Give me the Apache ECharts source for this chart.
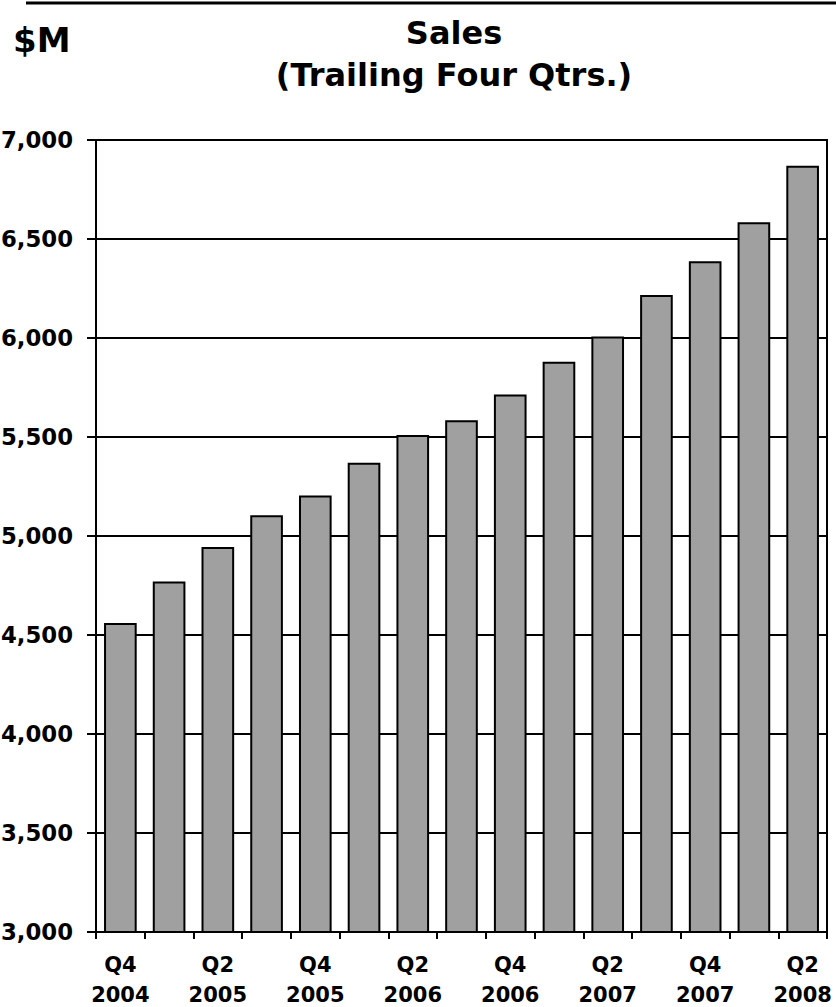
<!DOCTYPE html>
<html>
<head>
<meta charset="utf-8">
<script src="https://cdn.jsdelivr.net/npm/echarts@6/dist/echarts.min.js"></script>
<style>
  html, body { margin: 0; padding: 0; background: #fff; }
  #chart { width: 836px; height: 1007px; }
</style>
</head>
<body>
<div id="chart"></div>
<script>
// quarters, trailing four quarters sales in $M
var quarters = ['Q4\n2004', 'Q1\n2005', 'Q2\n2005', 'Q3\n2005', 'Q4\n2005',
                'Q1\n2006', 'Q2\n2006', 'Q3\n2006', 'Q4\n2006',
                'Q1\n2007', 'Q2\n2007', 'Q3\n2007', 'Q4\n2007',
                'Q1\n2008', 'Q2\n2008'];
var sales = [4560, 4770, 4945, 5105, 5205, 5370, 5510, 5585, 5715,
             5880, 6008, 6217, 6388, 6585, 6870];

var yMin = 3000, yMax = 7000, yStep = 500;
var titleLines = ['Sales', '(Trailing Four Qtrs.)'];
var unitText = '$M';

var FONT = 'DejaVu Sans';

var myChart = echarts.init(document.getElementById('chart'), null, { renderer: 'svg' });

var option = {
  animation: false,
  backgroundColor: '#fff',
  grid: {
    left: 96, right: 9, top: 140, bottom: 75,
    containLabel: false, outerBoundsMode: 'none',
    show: true, borderColor: '#000', borderWidth: 2
  },
  graphic: [
    { type: 'line', shape: { x1: 26, y1: 3, x2: 836, y2: 3 },
      style: { stroke: '#000', lineWidth: 3 } },
    { type: 'text', left: 13, top: 23,
      style: { text: unitText, font: 'bold 34px "' + FONT + '"', fill: '#000' } },
    { type: 'text', x: 454, y: 12,
      style: { text: titleLines.join('\n'), font: 'bold 32px "' + FONT + '"',
               fill: '#000', align: 'center', lineHeight: 42 } }
  ],
  xAxis: {
    type: 'category',
    data: quarters,
    axisLine: { lineStyle: { color: '#000', width: 2 } },
    axisTick: { show: true, interval: 0, length: 7, lineStyle: { color: '#000', width: 2 } },
    axisLabel: {
      interval: 1, margin: 18, color: '#000',
      fontFamily: FONT, fontWeight: 'bold', fontSize: 21, lineHeight: 30
    },
    splitLine: { show: false }
  },
  yAxis: {
    type: 'value',
    min: yMin, max: yMax, interval: yStep,
    axisLine: { show: true, lineStyle: { color: '#000', width: 2 } },
    axisTick: { show: true, length: 9, lineStyle: { color: '#000', width: 2 } },
    axisLabel: {
      margin: 23, color: '#000',
      fontFamily: FONT, fontWeight: 'bold', fontSize: 22.8,
      formatter: function (v) { return v.toLocaleString('en-US'); }
    },
    splitLine: { show: true, lineStyle: { color: '#000', width: 2 } }
  },
  series: [{
    type: 'bar',
    data: sales,
    barWidth: '67%',
    itemStyle: { color: '#a0a0a0', borderColor: '#000', borderWidth: 2 }
  }]
};

myChart.setOption(option);
</script>
</body>
</html>
